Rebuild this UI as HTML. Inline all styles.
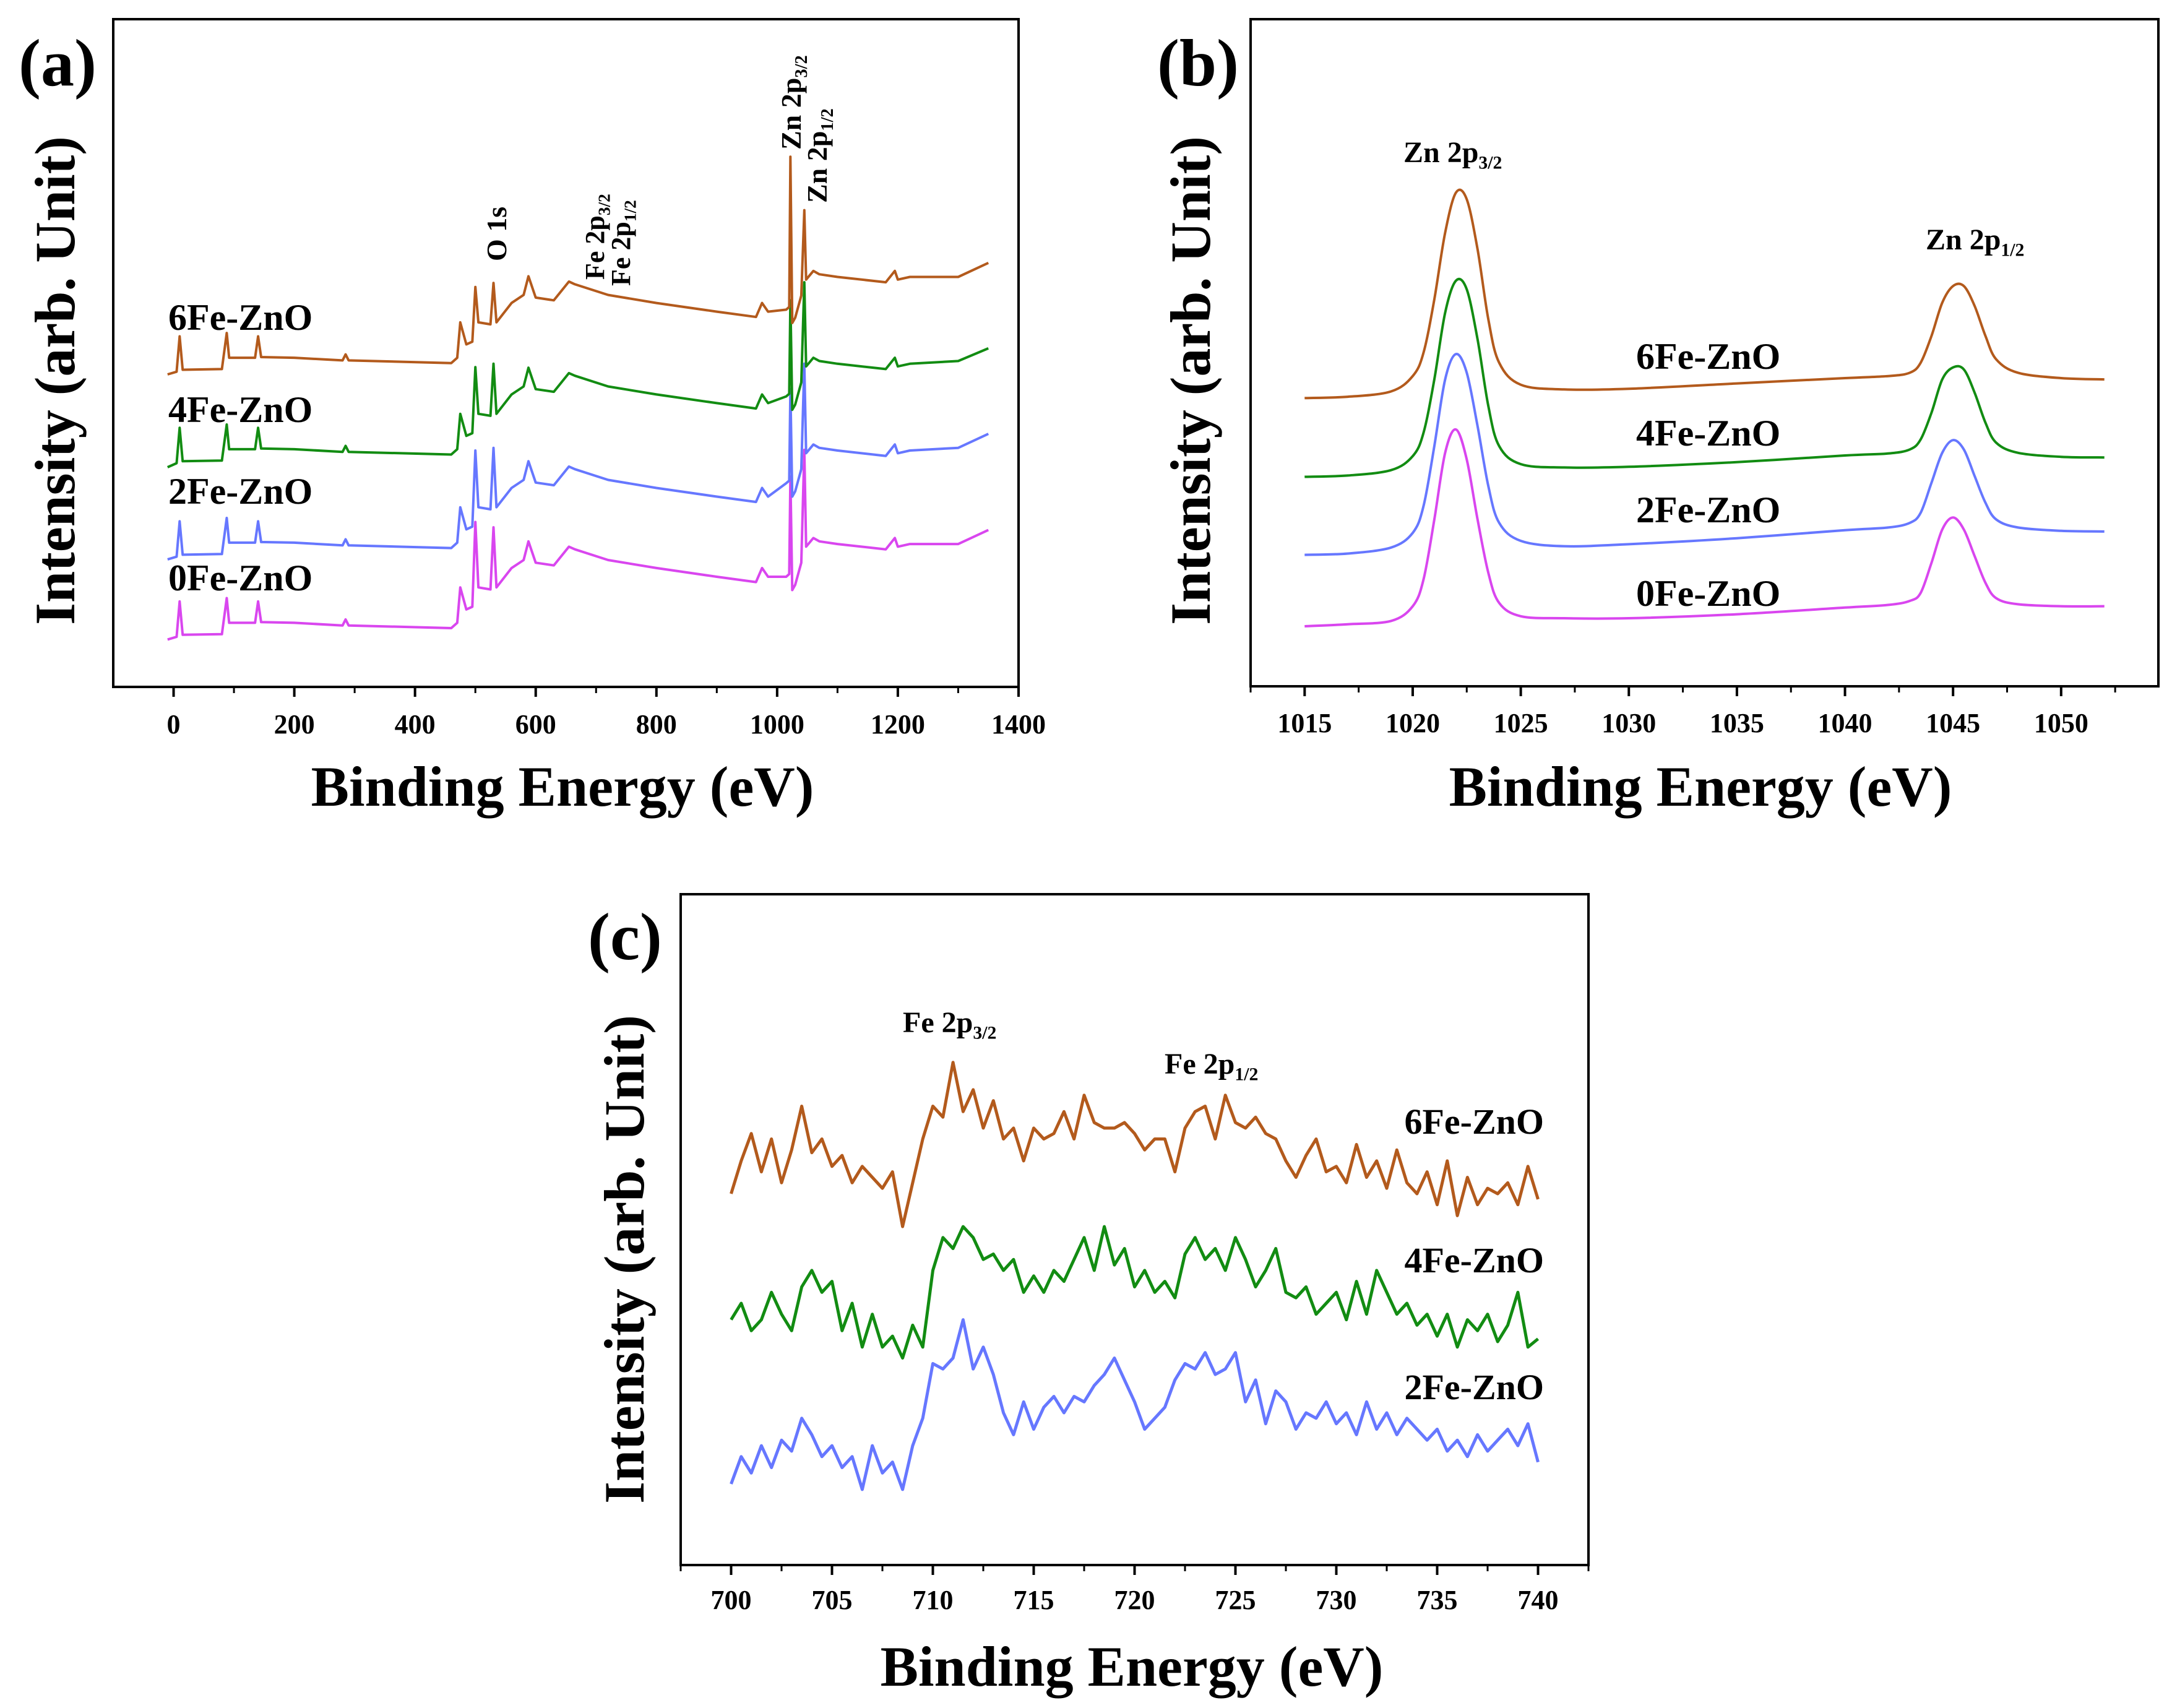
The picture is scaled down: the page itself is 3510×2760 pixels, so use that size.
<!DOCTYPE html>
<html><head><meta charset="utf-8"><style>
html,body{margin:0;padding:0;background:#fff}
svg{display:block}
text{font-family:"Liberation Serif",serif;font-weight:bold;fill:#000}
</style></head><body>
<svg id="fig" width="3510" height="2760" viewBox="0 0 3510 2760" xmlns="http://www.w3.org/2000/svg">
<rect x="0" y="0" width="3510" height="2760" fill="#fff"/>
<g id="pa"></g>
<g id="pb"></g>
<g id="pc"></g>
</svg>
<script>
const NS="http://www.w3.org/2000/svg";
// ---------- Panel (a) survey data ----------
const xa=[-10,5,10,15,80,88,92,100,135,140,145,200,280,285,290,460,470,475,485,495,500,505,525,530,535,560,580,588,600,630,655,665,720,800,900,965,975,985,1015,1020,1022,1025,1030,1040,1045,1048,1060,1070,1100,1180,1195,1200,1220,1300,1350];
const a0Fe=[7.1,7.5,12.8,7.8,7.9,13.3,9.6,9.6,9.6,12.8,9.7,9.6,9.2,10.1,9.2,8.8,9.6,14.9,11.6,12.0,24.7,14.9,14.6,23.9,14.9,17.8,19.0,21.8,18.6,18.2,21.0,20.6,19.0,17.8,16.5,15.7,17.8,16.5,16.5,16.9,31.5,14.5,15.3,18.6,35.5,21.0,22.3,21.8,21.4,20.6,22.3,21.0,21.4,21.4,23.5];
const a2Fe=[19.1,19.5,24.8,19.8,19.9,25.3,21.6,21.6,21.6,24.8,21.7,21.6,21.2,22.1,21.2,20.8,21.6,26.9,23.6,24.0,35.4,26.9,26.6,35.8,26.9,29.8,31.0,33.8,30.6,30.2,33.0,32.6,31.0,29.8,28.5,27.7,29.8,28.5,30.5,30.9,44.6,28.5,29.3,32.6,48.4,35.0,36.3,35.8,35.4,34.6,36.3,35.0,35.4,35.8,37.9];
const a4Fe=[32.9,33.5,38.8,33.8,33.9,39.3,35.6,35.6,35.6,38.8,35.7,35.6,35.2,36.1,35.2,34.8,35.6,40.9,37.6,38.0,47.9,40.9,40.6,48.4,40.9,43.8,45.0,47.8,44.6,44.2,47.0,46.6,45.0,43.8,42.5,41.7,43.8,42.5,43.5,43.9,57.9,41.5,42.3,45.6,60.6,48.0,49.3,48.8,48.4,47.6,49.3,48.0,48.4,48.8,50.7];
const a6Fe=[46.8,47.2,52.5,47.5,47.6,53.0,49.3,49.3,49.3,52.5,49.4,49.3,48.9,49.8,48.9,48.5,49.3,54.6,51.3,51.7,59.9,54.6,54.3,60.5,54.6,57.5,58.7,61.5,58.3,57.9,60.7,60.3,58.7,57.5,56.2,55.4,57.5,56.2,56.5,56.9,79.4,54.5,55.3,58.6,71.4,61.0,62.3,61.8,61.4,60.6,62.3,61.0,61.4,61.4,63.5];
const aTicks=[0,200,400,600,800,1000,1200,1400];
const aMinor=[100,300,500,700,900,1100,1300];
// ---------- Panel (b) Zn 2p data ----------
const xb=[1015,1017,1019,1020,1020.5,1021,1021.5,1022,1022.5,1023,1023.5,1024,1025,1027,1030,1035,1040,1042,1043,1043.5,1044,1044.5,1045,1045.5,1046,1046.5,1047,1048,1050,1052];
const b0Fe=[9.0,9.3,9.8,12,16,25,35,38.5,34,25,17,12.5,10.5,10.2,10.2,10.8,11.8,12.2,12.8,14,18.5,23.5,25.3,23.5,19.5,15.5,13.2,12.3,12.0,12.0];
const b2Fe=[19.7,19.9,20.8,23,27,36,46,49.8,47,39,30,24.5,21.8,21,21.3,22.2,23.4,23.8,24.5,26,30.5,35,36.9,35.5,31.5,27.5,25,23.8,23.3,23.2];
const b4Fe=[31.4,31.6,32.4,34.5,38,46,56,60.8,59.5,52,42,36,33.3,32.8,32.9,33.6,34.6,34.9,35.5,37,41,46,47.8,47.5,44,39.5,36.5,35,34.4,34.3];
const b6Fe=[43.2,43.4,44.2,46.5,50,58,68,74,73,65.5,55,48.5,45.2,44.5,44.6,45.4,46.2,46.5,47,48.5,52.5,57.5,60,60,57,52.5,49,47,46.2,46];
const bTicks=[1015,1020,1025,1030,1035,1040,1045,1050];
const bMinor=[1012.5,1017.5,1022.5,1027.5,1032.5,1037.5,1042.5,1047.5,1052.5];
// ---------- Panel (c) Fe 2p data ----------
const xc=[700,700.5,701,701.5,702,702.5,703,703.5,704,704.5,705,705.5,706,706.5,707,707.5,708,708.5,709,709.5,710,710.5,711,711.5,712,712.5,713,713.5,714,714.5,715,715.5,716,716.5,717,717.5,718,718.5,719,719.5,720,720.5,721,721.5,722,722.5,723,723.5,724,724.5,725,725.5,726,726.5,727,727.5,728,728.5,729,729.5,730,730.5,731,731.5,732,732.5,733,733.5,734,734.5,735,735.5,736,736.5,737,737.5,738,738.5,739,739.5,740];
const c6Fe=[680,740,790,720,780,700,760,840,755,780,730,750,700,730,710,690,720,620,700,780,840,820,920,830,870,800,850,780,800,740,800,780,790,830,780,860,810,800,800,810,790,760,780,780,720,800,830,840,780,860,810,800,820,790,780,740,710,750,780,720,730,700,770,710,740,690,760,700,680,720,660,740,640,710,660,690,680,700,660,730,670];
const c4Fe=[450,480,430,450,500,460,430,510,540,500,520,430,480,400,460,400,420,380,440,400,540,600,580,620,600,560,570,540,560,500,530,500,540,520,560,600,540,620,550,580,510,540,500,520,490,570,600,560,580,540,600,560,510,540,580,500,490,510,460,480,500,450,520,460,540,500,460,480,440,460,420,460,400,450,430,460,410,440,500,400,415];
const c2Fe=[150,200,170,220,180,230,210,270,240,200,220,180,200,140,220,170,190,140,220,270,370,360,380,450,360,400,350,280,240,300,250,290,310,280,310,300,330,350,380,340,300,250,270,290,340,370,360,390,350,360,390,300,340,260,320,300,250,280,270,300,260,280,240,300,250,280,240,270,250,230,250,210,230,200,240,210,230,250,220,260,190];
const cTicks=[700,705,710,715,720,725,730,735,740];
const cMinor=[697.5,702.5,707.5,712.5,717.5,722.5,727.5,732.5,737.5,742.5];

const COL={o:"#b35a1c",g:"#128c12",b:"#6677ff",m:"#d946ef"};

function mk(parent,tag,attrs){const e=document.createElementNS(NS,tag);for(const k in attrs)e.setAttribute(k,attrs[k]);parent.appendChild(e);return e;}
function scale(d0,d1,r0,r1){return v=>r0+(v-d0)/(d1-d0)*(r1-r0);}

function frame(g,box,xs,ticks,minor,labelY,fs){
  const r=mk(g,'rect',{x:box.x0,y:box.y0,width:box.x1-box.x0,height:box.y1-box.y0,fill:'none',stroke:'#000','stroke-width':4});
  
  
  const ax=mk(g,'g',{});
  
  
  ticks.forEach(t=>{
    const l=mk(ax,'line',{x1:xs(t),x2:xs(t),y1:box.y1,y2:box.y1+16,stroke:'#000','stroke-width':4});
    
    
    const tx=mk(ax,'text',{x:xs(t),y:labelY,'text-anchor':'middle','font-size':fs});
    
    
    tx.textContent=String(t);
  });
  minor.forEach(t=>{
    const l=mk(ax,'line',{x1:xs(t),x2:xs(t),y1:box.y1,y2:box.y1+10,stroke:'#000','stroke-width':3});
    
    
  });
}
function poly(g,xarr,yarr,xs,ys,color,w,name,smooth){
  const pts=xarr.map((x,i)=>[xs(x),ys(yarr[i])]);
  let d='M'+pts[0][0].toFixed(1)+','+pts[0][1].toFixed(1);
  if(!smooth){for(let i=1;i<pts.length;i++)d+='L'+pts[i][0].toFixed(1)+','+pts[i][1].toFixed(1);}
  else{
    for(let i=0;i<pts.length-1;i++){
      const p0=pts[Math.max(0,i-1)],p1=pts[i],p2=pts[i+1],p3=pts[Math.min(pts.length-1,i+2)];
      const c1x=p1[0]+(p2[0]-p0[0])/6,c1y=p1[1]+(p2[1]-p0[1])/6;
      const c2x=p2[0]-(p3[0]-p1[0])/6,c2y=p2[1]-(p3[1]-p1[1])/6;
      d+='C'+c1x.toFixed(1)+','+c1y.toFixed(1)+' '+c2x.toFixed(1)+','+c2y.toFixed(1)+' '+p2[0].toFixed(1)+','+p2[1].toFixed(1);
    }
  }
  const p=mk(g,'path',{d:d,fill:'none',stroke:color,'stroke-width':w,'stroke-linejoin':'round'});
  
  
}
function txt(g,x,y,s,fs,name,anchor,sub,rot){
  const t=mk(g,'text',{x:x,y:y,'font-size':fs,'text-anchor':anchor||'start'});
  if(rot){t.setAttribute('transform','rotate(-90 '+x+' '+y+')');}
  
  
  t.appendChild(document.createTextNode(s));
  if(sub){const ts=mk(t,'tspan',{'font-size':fs*0.62,dy:fs*0.22});ts.textContent=sub;}
  return t;
}

// ===== Panel a =====
(function(){
  const g=document.getElementById('pa');
  const box={x0:183,x1:1646,y0:31,y1:1110};
  const xs=scale(-100,1400,box.x0,box.x1), ys=scale(0,100,box.y1,box.y0);
  frame(g,box,xs,aTicks,aMinor,1185,44);
  poly(g,xa,a0Fe,xs,ys,COL.m,4,'series-0fe-zno');
  poly(g,xa,a2Fe,xs,ys,COL.b,4,'series-2fe-zno');
  poly(g,xa,a4Fe,xs,ys,COL.g,4,'series-4fe-zno');
  poly(g,xa,a6Fe,xs,ys,COL.o,4,'series-6fe-zno');
  txt(g,272,533,'6Fe-ZnO',60,'label-6fe-zno');
  txt(g,272,682,'4Fe-ZnO',60,'label-4fe-zno');
  txt(g,272,814,'2Fe-ZnO',60,'label-2fe-zno');
  txt(g,272,954,'0Fe-ZnO',60,'label-0fe-zno');
  txt(g,818,422,'O 1s',46,'peak-label-o1s','start',null,true);
  txt(g,976,452,'Fe 2p',44,'peak-label-fe2p32','start','3/2',true);
  txt(g,1018,462,'Fe 2p',44,'peak-label-fe2p12','start','1/2',true);
  txt(g,1294,242,'Zn 2p',46,'peak-label-zn2p32','start','3/2',true);
  txt(g,1336,328,'Zn 2p',46,'peak-label-zn2p12','start','1/2',true);
  txt(g,30,138,'(a)',108,'panel-label-a');
  txt(g,120,615,'Intensity (arb. Unit)',92,'y-axis-title-a','middle',null,true);
  txt(g,909,1302,'Binding Energy (eV)',92,'x-axis-title-a','middle');
})();
// ===== Panel b =====
(function(){
  const g=document.getElementById('pb');
  const box={x0:2021,x1:3488,y0:31,y1:1109};
  const xs=scale(1012.5,1054.5,box.x0,box.x1), ys=scale(0,100,box.y1,box.y0);
  frame(g,box,xs,bTicks,bMinor,1183,44);
  poly(g,xb,b0Fe,xs,ys,COL.m,4,'series-0fe-zno',true);
  poly(g,xb,b2Fe,xs,ys,COL.b,4,'series-2fe-zno',true);
  poly(g,xb,b4Fe,xs,ys,COL.g,4,'series-4fe-zno',true);
  poly(g,xb,b6Fe,xs,ys,COL.o,4,'series-6fe-zno',true);
  txt(g,2644,596,'6Fe-ZnO',60,'label-6fe-zno');
  txt(g,2644,720,'4Fe-ZnO',60,'label-4fe-zno');
  txt(g,2644,844,'2Fe-ZnO',60,'label-2fe-zno');
  txt(g,2644,979,'0Fe-ZnO',60,'label-0fe-zno');
  txt(g,2268,262,'Zn 2p',48,'peak-label-zn2p32','start','3/2');
  txt(g,3112,403,'Zn 2p',48,'peak-label-zn2p12','start','1/2');
  txt(g,1870,138,'(b)',108,'panel-label-b');
  txt(g,1955,615,'Intensity (arb. Unit)',92,'y-axis-title-b','middle',null,true);
  txt(g,2748,1302,'Binding Energy (eV)',92,'x-axis-title-b','middle');
})();
// ===== Panel c =====
(function(){
  const g=document.getElementById('pc');
  const box={x0:1100,x1:2567,y0:1445,y1:2529};
  const xs=scale(697.5,742.5,box.x0,box.x1), ys=scale(2,1227,box.y1,box.y0);
  frame(g,box,xs,cTicks,cMinor,2600,44);
  poly(g,xc,c2Fe,xs,ys,COL.b,5,'series-2fe-zno');
  poly(g,xc,c4Fe,xs,ys,COL.g,5,'series-4fe-zno');
  poly(g,xc,c6Fe,xs,ys,COL.o,5,'series-6fe-zno');
  txt(g,2495,1832,'6Fe-ZnO',58,'label-6fe-zno','end');
  txt(g,2495,2056,'4Fe-ZnO',58,'label-4fe-zno','end');
  txt(g,2495,2261,'2Fe-ZnO',58,'label-2fe-zno','end');
  txt(g,1459,1668,'Fe 2p',48,'peak-label-fe2p32','start','3/2');
  txt(g,1882,1735,'Fe 2p',48,'peak-label-fe2p12','start','1/2');
  txt(g,950,1550,'(c)',108,'panel-label-c');
  txt(g,1040,2035,'Intensity (arb. Unit)',92,'y-axis-title-c','middle',null,true);
  txt(g,1829,2724,'Binding Energy (eV)',92,'x-axis-title-c','middle');
})();
</script>
</body></html>
